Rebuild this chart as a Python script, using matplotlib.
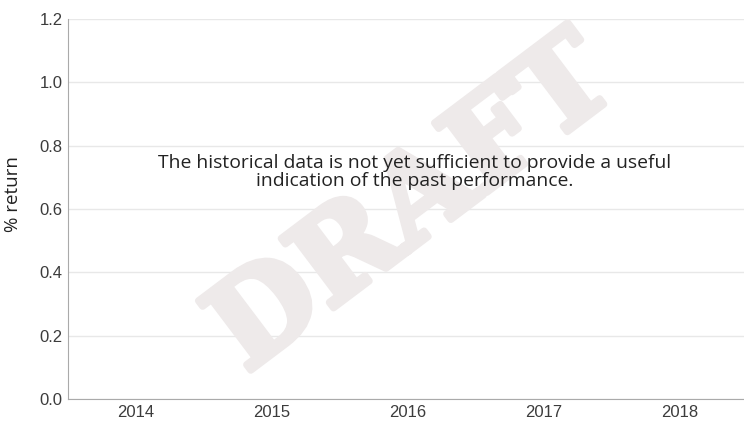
import matplotlib.pyplot as plt
import matplotlib.patheffects as pe

years = ["2014", "2015", "2016", "2017", "2018"]
y_ticks = [0.0, 0.2, 0.4, 0.6, 0.8, 1.0, 1.2]
message = "The historical data is not yet sufficient to provide a useful\nindication of the past performance."
watermark = "DRAFT"

fig = plt.figure(figsize=(7.44, 4.21), dpi=100)
ax = fig.add_axes([68 / 744, 22 / 421, 676 / 744, 380 / 421])

ax.set_xlim(-0.5, len(years) - 0.53)
ax.set_ylim(0, 1.2)
ax.set_xticks(range(len(years)))
ax.set_xticklabels(years)
ax.set_yticks(y_ticks)
ax.set_yticklabels([f"{v:.1f}" for v in y_ticks])
for lab in ax.get_xticklabels() + ax.get_yticklabels():
    lab.set_family("Liberation Sans")
ax.tick_params(length=0, labelsize=12, labelcolor="#3c3c3c")
ax.tick_params(axis="x", pad=4)
ax.tick_params(axis="y", pad=4)

ax.grid(axis="y", color="#e8e8e8", linewidth=1)
ax.set_axisbelow(True)
for side in ["top", "right"]:
    ax.spines[side].set_visible(False)
ax.spines["left"].set_color("#aaaaaa")
ax.spines["bottom"].set_color("#aaaaaa")

ax.set_ylabel("% return", fontsize=13.5, color="#222222", family="Open Sans")
ax.yaxis.set_label_coords(-0.068, 0.54)

# watermark
fig.text(414 / 744, 1 - 206 / 421, watermark, fontsize=86, fontweight="bold",
         family="DejaVu Serif", color="#eeeaea", rotation=37,
         ha="center", va="center", zorder=0,
         path_effects=[pe.withStroke(linewidth=5, foreground="#eeeaea",
                                     capstyle="round", joinstyle="round")])

fig.text(415 / 744, 1 - 172 / 421, message, fontsize=13.9, color="#222222",
         family="Open Sans", ha="center", va="center", linespacing=1.05)

fig.savefig("out.png", dpi=100)
